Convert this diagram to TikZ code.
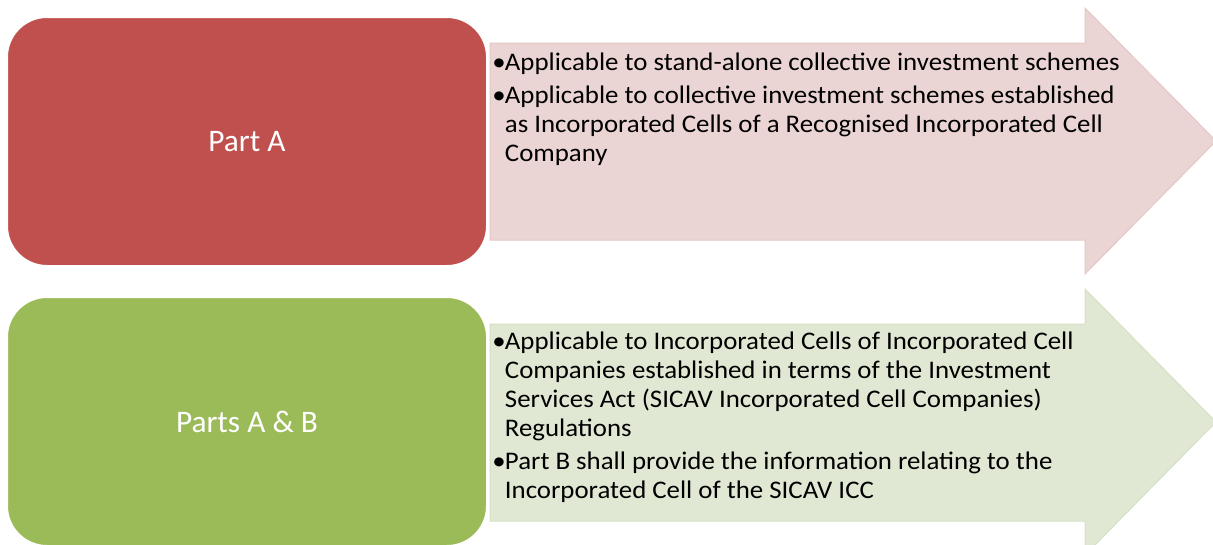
\documentclass[tikz,border=0pt]{standalone}
\usepackage{fontspec}
\setmainfont{Carlito}
\newfontfamily\bodyfont{Carlito}[FakeStretch=1.06]
\definecolor{partred}{HTML}{C0504D}
\definecolor{partgreen}{HTML}{9BBB59}
\definecolor{redtint}{HTML}{EBD5D4}
\definecolor{redline}{HTML}{E4C7C6}
\definecolor{greentint}{HTML}{E0E8D4}
\definecolor{greenline}{HTML}{D5E0C4}
\newcommand{\blt}{\textbullet}
\begin{document}
\begin{tikzpicture}[x=0.75pt, y=-0.75pt,
	partbox/.style={draw=white, line width=1.5pt, rounded corners=30pt,
		minimum width=360pt, minimum height=186.75pt, text=white,
		font=\fontsize{23.5pt}{28pt}\selectfont},
	bodytext/.style={anchor=base west, inner sep=0pt,
		font=\bodyfont\fontsize{19pt}{21.75pt}\selectfont}]
	\useasboundingbox (0,0) rectangle (1213,544);
	% arrows
	\filldraw[fill=redtint, draw=redline, line width=0.75pt] (490,43) -- (1085,43) -- (1085,8)
		-- (1216,141) -- (1085,274) -- (1085,240) -- (490,240) -- cycle;
	\filldraw[fill=greentint, draw=greenline, line width=0.75pt] (490,324) -- (1085,324) -- (1085,289)
		-- (1216,422) -- (1085,555) -- (1085,521) -- (490,521) -- cycle;
	% boxes
	\node[partbox, fill=partred] (partA) at (247,141.5) {Part A};
	\node[partbox, fill=partgreen] (partsAB) at (247,421.5) {Parts A \& B};
	% texts
	\node[bodytext] (textA) at (492,70) {\begin{tabular}[t]{@{}p{9.5pt}@{}l@{}}
		\blt & Applicable to stand-alone collective investment schemes\\[3pt]
		\blt & Applicable to collective investment schemes established\\
		& as Incorporated Cells of a Recognised Incorporated Cell\\
		& Company
	\end{tabular}};
	\node[bodytext] (textAB) at (492,349) {\begin{tabular}[t]{@{}p{9.5pt}@{}l@{}}
		\blt & Applicable to Incorporated Cells of Incorporated Cell\\
		& Companies established in terms of the Investment\\
		& Services Act (SICAV Incorporated Cell Companies)\\
		& Regulations\\[3.2pt]
		\blt & Part B shall provide the information relating to the\\
		& Incorporated Cell of the SICAV ICC
	\end{tabular}};
\end{tikzpicture}
\end{document}
